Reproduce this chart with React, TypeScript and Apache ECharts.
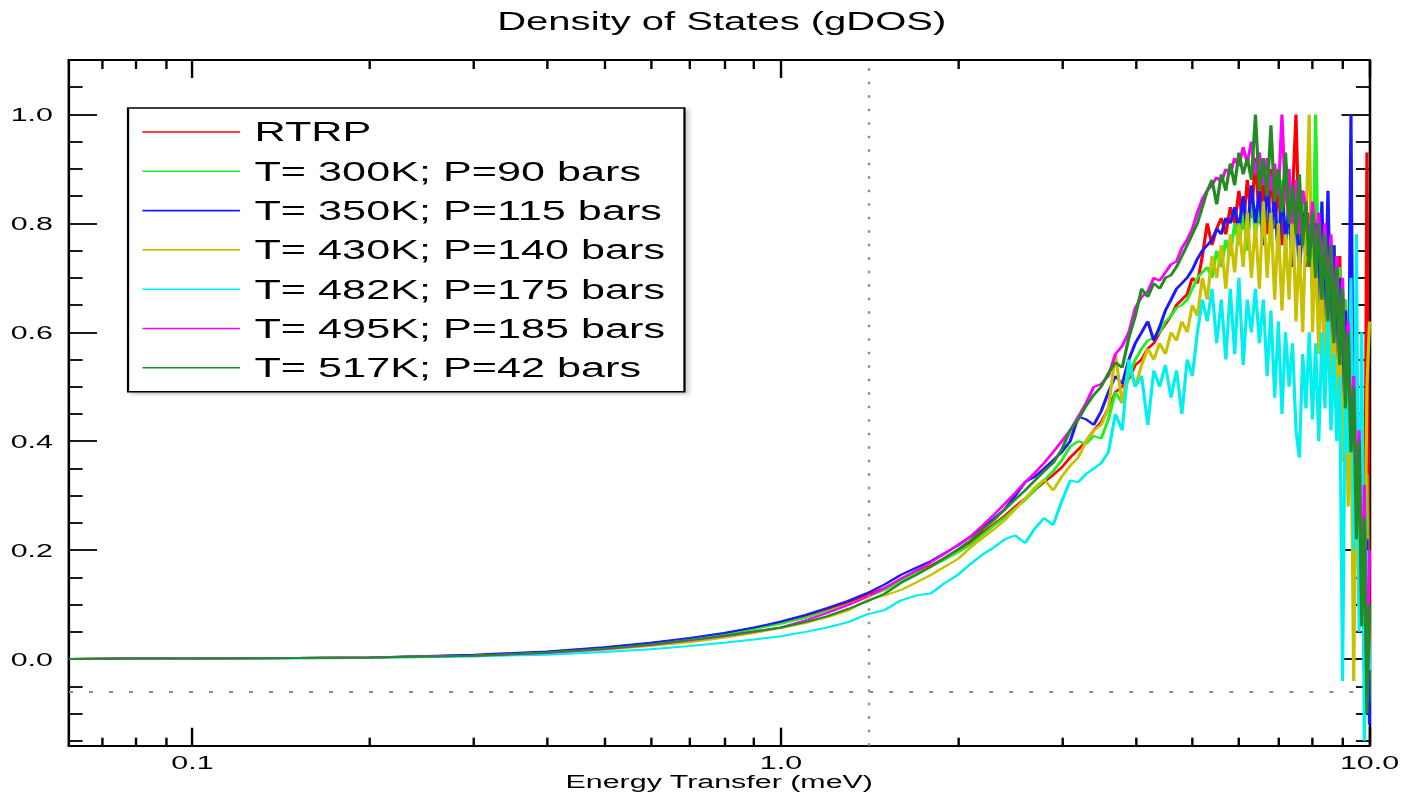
import React, { useEffect, useRef } from "react";
import * as echarts from "echarts";

// ---------- data ----------
const energy = [
  0.0617, 0.08, 0.1, 0.15, 0.2, 0.3, 0.4, 0.5, 0.6, 0.7, 0.8, 0.9, 1.0, 1.1, 1.2, 1.3, 1.4, 1.5, 1.6, 1.7, 1.8, 1.9, 2.0,
  2.1, 2.2, 2.3, 2.4, 2.5, 2.6, 2.7, 2.8, 2.9, 3.0, 3.1, 3.2, 3.3, 3.4, 3.5, 3.6, 3.7, 3.8, 3.9, 4.0,
  4.1, 4.2, 4.3, 4.4, 4.5, 4.6, 4.7, 4.8, 4.9, 5.0, 5.1, 5.2, 5.3, 5.4, 5.5, 5.6, 5.7, 5.8, 5.9, 6.0,
  6.1, 6.2, 6.3, 6.4, 6.5, 6.6, 6.7, 6.8, 6.9, 7.0, 7.1, 7.2, 7.3, 7.4, 7.5, 7.6, 7.7, 7.8, 7.9,
  8.0, 8.1, 8.2, 8.3, 8.4, 8.5, 8.6, 8.7, 8.8, 8.9, 9.0, 9.1, 9.2, 9.3, 9.4, 9.5, 9.6, 9.7, 9.8, 9.9, 10.0,
];

const rtrp = [
  0.0, 0.001, 0.001, 0.002, 0.003, 0.007, 0.013, 0.021, 0.029, 0.037, 0.047, 0.057, 0.067, 0.079, 0.092, 0.104, 0.118, 0.131, 0.145, 0.16, 0.172, 0.186, 0.2,
  0.215, 0.232, 0.248, 0.263, 0.28, 0.295, 0.31, 0.325, 0.338, 0.352, 0.37, 0.385, 0.4, 0.42, 0.435, 0.46, 0.49, 0.5, 0.515, 0.54,
  0.55, 0.57, 0.58, 0.6, 0.615, 0.63, 0.65, 0.66, 0.67, 0.7, 0.69, 0.74, 0.8, 0.76, 0.79, 0.81, 0.78, 0.83, 0.8, 0.86,
  0.79, 0.88, 0.81, 0.92, 0.8, 0.88, 0.78, 0.9, 0.79, 0.87, 0.76, 0.91, 0.78, 0.85, 1.0, 0.76, 0.86, 0.72, 0.82,
  0.7, 0.84, 0.68, 0.8, 0.64, 0.82, 0.6, 0.76, 0.56, 0.74, 0.5, 0.66, 0.4, 0.6, 0.28, 0.52, 0.12, 0.4, 0.0, 0.93, -0.05,
];

const t300 = [
  0.0, 0.001, 0.001, 0.002, 0.003, 0.007, 0.013, 0.02, 0.028, 0.036, 0.045, 0.055, 0.065, 0.076, 0.088, 0.1, 0.114, 0.127, 0.144, 0.158, 0.17, 0.183, 0.196,
  0.21, 0.228, 0.245, 0.26, 0.277, 0.292, 0.31, 0.328, 0.345, 0.365, 0.39, 0.4, 0.395, 0.41, 0.405, 0.44, 0.49, 0.47, 0.52, 0.55,
  0.57, 0.585, 0.59, 0.6, 0.62, 0.63, 0.645, 0.65, 0.66, 0.68, 0.7, 0.71, 0.72, 0.7, 0.75, 0.72, 0.77, 0.74, 0.8, 0.76,
  0.82, 0.75, 0.85, 0.78, 0.83, 0.76, 0.86, 0.77, 0.84, 0.74, 0.88, 0.76, 0.82, 0.72, 0.86, 0.7, 0.84, 0.73, 0.8,
  0.68, 1.0, 0.66, 0.8, 0.62, 0.78, 0.58, 0.76, 0.52, 0.72, 0.48, 0.66, 0.4, 0.58, 0.3, 0.5, 0.16, 0.42, 0.02, 0.34, -0.08,
];

const t350 = [
  0.0, 0.001, 0.001, 0.002, 0.003, 0.008, 0.014, 0.022, 0.03, 0.039, 0.048, 0.058, 0.069, 0.081, 0.094, 0.107, 0.121, 0.137, 0.155, 0.168, 0.18, 0.195, 0.209,
  0.225, 0.242, 0.258, 0.275, 0.3, 0.325, 0.335, 0.35, 0.365, 0.38, 0.4, 0.445, 0.44, 0.43, 0.455, 0.49, 0.52, 0.505, 0.55, 0.58,
  0.6, 0.62, 0.585, 0.61, 0.64, 0.66, 0.68, 0.69, 0.7, 0.715, 0.735, 0.75, 0.76, 0.77, 0.79, 0.78, 0.81, 0.8, 0.83, 0.79,
  0.85, 0.78, 0.87, 0.8, 0.86, 0.76, 0.88, 0.78, 0.85, 0.74, 0.86, 0.77, 0.83, 0.72, 0.85, 0.7, 0.82, 0.74, 0.8,
  0.68, 0.8, 0.64, 0.84, 0.62, 0.86, 0.58, 0.76, 0.52, 0.7, 0.46, 0.64, 0.36, 1.0, 0.26, 0.5, 0.1, 0.36, -0.02, 0.22, -0.12,
];

const t430 = [
  0.0, 0.001, 0.001, 0.002, 0.003, 0.006, 0.011, 0.017, 0.024, 0.031, 0.039, 0.048, 0.057, 0.066, 0.077, 0.089, 0.108, 0.117, 0.127, 0.141, 0.155, 0.17, 0.184,
  0.205, 0.222, 0.238, 0.255, 0.275, 0.295, 0.315, 0.33, 0.31, 0.335, 0.355, 0.37, 0.4, 0.42, 0.43, 0.46, 0.56, 0.47, 0.54, 0.5,
  0.54, 0.57, 0.55, 0.58, 0.56, 0.6, 0.585, 0.62, 0.6, 0.65, 0.63, 0.7, 0.66, 0.74, 0.7, 0.76, 0.68, 0.78, 0.71, 0.8,
  0.72, 0.82, 0.7, 0.8, 0.68, 0.84, 0.7, 0.82, 0.66, 0.8, 0.64, 0.78, 0.66, 0.84, 0.62, 0.76, 0.6, 0.8, 1.0,
  0.6, 0.76, 0.56, 0.72, 0.52, 0.7, 0.48, 0.66, 0.44, 0.62, 0.36, 0.56, 0.28, 0.48, -0.04, 0.4, 0.1, 0.3, 0.05, 0.5, 0.62,
];

const t482 = [
  0.0, 0.0, 0.001, 0.001, 0.002, 0.005, 0.008, 0.013, 0.018, 0.024, 0.03, 0.036, 0.042, 0.05, 0.058, 0.068, 0.082, 0.09, 0.108, 0.117, 0.121, 0.14, 0.155,
  0.175, 0.192, 0.205, 0.22, 0.227, 0.213, 0.24, 0.259, 0.246, 0.29, 0.328, 0.325, 0.34, 0.35, 0.36, 0.38, 0.45, 0.42, 0.55, 0.5,
  0.52, 0.43, 0.53, 0.5, 0.54, 0.48, 0.53, 0.45, 0.55, 0.52, 0.6, 0.66, 0.62, 0.68, 0.58, 0.66, 0.55, 0.68, 0.56, 0.7,
  0.54, 0.66, 0.6, 0.68, 0.58, 0.66, 0.52, 0.64, 0.48, 0.62, 0.45, 0.6, 0.5, 0.58, 0.42, 0.37, 0.56, 0.46, 0.6,
  0.44, 0.58, 0.4, 0.6, 0.46, 0.64, 0.42, 0.56, 0.4, 0.52, -0.04, 0.54, 0.38, 0.7, 0.2, 0.78, 0.05, 0.6, -0.15, 0.2, -0.02,
];

const t495 = [
  0.0, 0.001, 0.001, 0.002, 0.003, 0.006, 0.011, 0.018, 0.026, 0.034, 0.042, 0.05, 0.058, 0.071, 0.085, 0.099, 0.114, 0.13, 0.148, 0.163, 0.178, 0.194, 0.21,
  0.225, 0.245, 0.265, 0.285, 0.305, 0.325, 0.342, 0.36, 0.38, 0.4, 0.42, 0.445, 0.47, 0.5, 0.505, 0.52, 0.56, 0.575, 0.6, 0.645,
  0.665, 0.675, 0.7, 0.695, 0.71, 0.725, 0.73, 0.755, 0.77, 0.79, 0.82, 0.845, 0.86, 0.87, 0.885, 0.875, 0.9, 0.89, 0.92, 0.905,
  0.94, 0.91, 0.95, 0.89, 0.93, 0.87, 0.92, 0.86, 0.91, 0.85, 1.0, 0.84, 0.9, 0.8, 0.88, 0.78, 0.86, 0.83, 0.76,
  0.84, 0.74, 0.82, 0.7, 0.8, 0.66, 0.78, 0.62, 0.74, 0.56, 0.7, 0.48, 0.62, 0.4, 0.52, 0.3, 0.42, 0.1, 0.32, -0.07, 0.2,
];

const t517 = [
  0.0, 0.001, 0.001, 0.002, 0.003, 0.006, 0.012, 0.019, 0.027, 0.035, 0.043, 0.051, 0.058, 0.068, 0.079, 0.092, 0.106, 0.12, 0.14, 0.155, 0.17, 0.186, 0.202,
  0.218, 0.238, 0.255, 0.275, 0.293, 0.31, 0.328, 0.345, 0.36, 0.385, 0.42, 0.44, 0.465, 0.485, 0.5, 0.525, 0.545, 0.535, 0.59, 0.63,
  0.68, 0.665, 0.69, 0.68, 0.7, 0.705, 0.72, 0.74, 0.76, 0.78, 0.8, 0.83, 0.86, 0.88, 0.835, 0.89, 0.86, 0.91, 0.87, 0.93,
  0.89, 0.92, 0.88, 1.0, 0.86, 0.92, 0.85, 0.98, 0.84, 0.9, 0.82, 0.93, 0.8, 0.87, 0.78, 0.89, 0.76, 0.84, 0.72,
  0.82, 0.7, 0.8, 0.66, 0.78, 0.62, 0.76, 0.58, 0.72, 0.54, 0.68, 0.46, 0.6, 0.38, 0.5, 0.22, 0.4, 0.06, 0.26, -0.1, 0.1,
];

const seriesNames = [
  "RTRP",
  "T= 300K; P=90 bars",
  "T= 350K; P=115 bars",
  "T= 430K; P=140 bars",
  "T= 482K; P=175 bars",
  "T= 495K; P=185 bars",
  "T= 517K; P=42 bars",
];
const seriesValues = [rtrp, t300, t350, t430, t482, t495, t517];
const seriesColors = ["#ff0000", "#22ee22", "#1a1aff", "#c8c000", "#00f0f0", "#ff00ff", "#228b22"];

const xMajorTicks = [0.1, 1, 10];
const xMinorTicks = [0.07, 0.08, 0.09, 0.2, 0.3, 0.4, 0.5, 0.6, 0.7, 0.8, 0.9, 2, 3, 4, 5, 6, 7, 8, 9];
const yMajorTicks = [0, 0.2, 0.4, 0.6, 0.8, 1.0];
const yMinorTicks = [-0.15, -0.1, -0.05, 0.05, 0.1, 0.15, 0.25, 0.3, 0.35, 0.45, 0.5, 0.55, 0.65, 0.7, 0.75, 0.85, 0.9, 0.95, 1.05];

const X_MIN = 0.0617;
const X_MAX = 10;
const Y_MIN = -0.159;
const Y_MAX = 1.1;
const refEnergy = 1.413;
const refLevel = -0.06;

// ---------- layout (chart is drawn narrower, then stretched horizontally like the original) ----------
const W = 876;
const H = 795;
const S = 1402 / W;
const FONT = "Liberation Sans";

function fmt1(v: number) {
  return Number(v).toFixed(1);
}

function xAxisDef(position: "bottom" | "top", major: boolean, main: boolean) {
  return {
    type: "log",
    position,
    min: X_MIN,
    max: X_MAX,
    axisLine: { show: major, onZero: false, lineStyle: { color: "#000", width: 2 } },
    axisTick: {
      show: true,
      inside: true,
      length: major ? 18 : position === "top" ? 9 : 8,
      lineStyle: { color: "#000", width: 1.5 },
      customValues: major ? xMajorTicks : xMinorTicks,
    },
    axisLabel: main
      ? { show: true, customValues: xMajorTicks, formatter: fmt1, color: "#000", fontSize: 19, margin: 7, fontFamily: FONT }
      : { show: false },
    splitLine: { show: false },
    minorTick: { show: false },
    minorSplitLine: { show: false },
    ...(main
      ? {
          name: "Energy Transfer (meV)",
          nameLocation: "middle",
          nameGap: 26,
          nameMoveOverlap: false,
          nameTextStyle: { color: "#000", fontSize: 19, fontFamily: FONT },
        }
      : {}),
  };
}

function yAxisDef(position: "left" | "right", major: boolean, main: boolean) {
  return {
    type: "value",
    position,
    min: Y_MIN,
    max: Y_MAX,
    axisLine: { show: major, onZero: false, lineStyle: { color: "#000", width: 1.6 } },
    axisTick: {
      show: true,
      inside: true,
      length: major ? 17.5 : 8.5,
      lineStyle: { color: "#000", width: 1.8 },
      customValues: major ? yMajorTicks : yMinorTicks,
    },
    axisLabel: main
      ? { show: true, customValues: yMajorTicks, formatter: fmt1, color: "#000", fontSize: 19, margin: 10, fontFamily: FONT }
      : { show: false },
    splitLine: { show: false },
    minorTick: { show: false },
    minorSplitLine: { show: false },
  };
}

export default function App() {
  const ref = useRef<HTMLDivElement>(null);

  useEffect(() => {
    document.body.style.margin = "0";
    document.body.style.overflow = "hidden";
    const chart = echarts.init(ref.current as HTMLDivElement, null, { renderer: "svg" });

    const series = seriesNames.map((name, k) => ({
      name,
      type: "line",
      xAxisIndex: 0,
      yAxisIndex: 0,
      symbol: "none",
      showSymbol: false,
      silent: true,
      clip: true,
      lineStyle: { color: seriesColors[k], width: 2 },
      itemStyle: { color: seriesColors[k] },
      emphasis: { disabled: true },
      data: energy.map((e, i) => [e, seriesValues[k][i]]),
      ...(k === 0
        ? {
            markLine: {
              silent: true,
              symbol: ["none", "none"],
              label: { show: false },
              data: [
                { xAxis: refEnergy, lineStyle: { color: "#8c8c8c", width: 1.5, type: [2.5, 11] } },
                { yAxis: refLevel, lineStyle: { color: "#8c8c8c", width: 1.8, type: [2.5, 10] } },
              ],
            },
          }
        : {}),
    }));

    chart.setOption({
      animation: false,
      backgroundColor: "#ffffff",
      textStyle: { fontFamily: FONT },
      title: {
        text: "Density of States (gDOS)",
        left: 451,
        top: 9,
        textAlign: "center",
        padding: 0,
        textStyle: { fontSize: 25, fontWeight: "normal", color: "#000", fontFamily: FONT },
      },
      grid: { left: 43.1, right: 20.3, top: 60, bottom: 49.3, containLabel: false, outerBoundsMode: "none" },
      legend: {
        show: true,
        orient: "vertical",
        left: 80,
        top: 108,
        padding: [9, 12, 9, 9],
        itemGap: 9.3,
        itemWidth: 61,
        itemHeight: 1.6,
        icon: "rect",
        selectedMode: false,
        backgroundColor: "#ffffff",
        borderColor: "#000",
        borderWidth: 1.4,
        shadowColor: "rgba(0,0,0,0.22)",
        shadowBlur: 3,
        shadowOffsetX: 2,
        shadowOffsetY: 2,
        textStyle: { color: "#000", fontSize: 27, lineHeight: 30, fontFamily: FONT, padding: [0, 0, 0, 4] },
        data: seriesNames,
      },
      xAxis: [
        xAxisDef("bottom", true, true),
        xAxisDef("bottom", false, false),
        xAxisDef("top", true, false),
        xAxisDef("top", false, false),
      ],
      yAxis: [
        yAxisDef("left", true, true),
        yAxisDef("left", false, false),
        yAxisDef("right", true, false),
        yAxisDef("right", false, false),
      ],
      series,
    });

    return () => {
      chart.dispose();
    };
  }, []);

  return (
    <div style={{ position: "absolute", left: 0, top: 0, width: 1402, height: H, overflow: "hidden", background: "#fff" }}>
      <div
        ref={ref}
        style={{ width: W, height: H, transform: `scaleX(${S})`, transformOrigin: "0 0" }}
      />
    </div>
  );
}
